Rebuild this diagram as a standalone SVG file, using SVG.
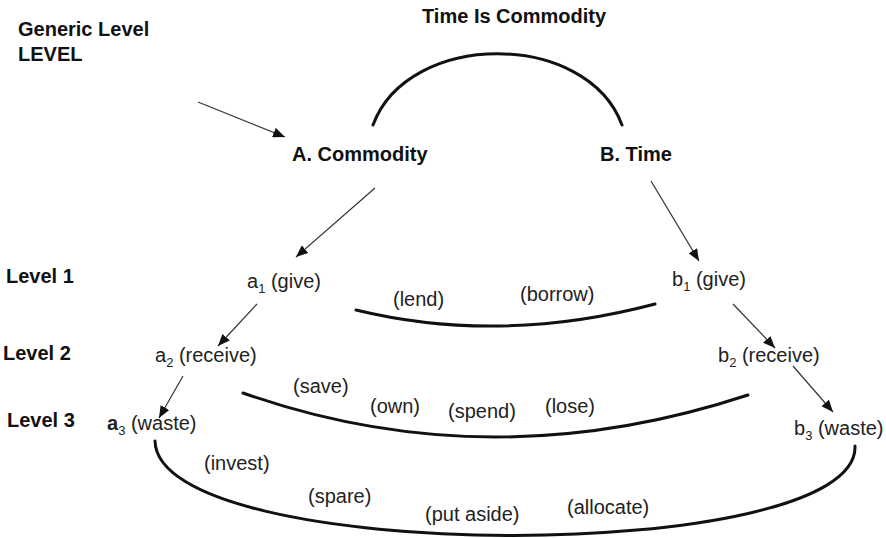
<svg xmlns="http://www.w3.org/2000/svg" width="886" height="538" viewBox="0 0 886 538">
  <style>
    .bold { font-family: "Liberation Sans", Arial, sans-serif; font-weight: bold; font-size: 20px; fill: #111; }
    .lbl { font-family: "Liberation Sans", Arial, sans-serif; font-size: 20px; fill: #222; }
    .sub { font-size: 13px; }
    .arc { fill: none; stroke: #111; stroke-width: 3; stroke-linecap: round; }
    .arrow { fill: none; stroke: #333; stroke-width: 1.2; marker-end: url(#head); }
  </style>
  <defs>
    <marker id="head" markerUnits="userSpaceOnUse" markerWidth="12" markerHeight="10" refX="12" refY="5" orient="auto">
      <path d="M0,0 L12,5 L0,10 Z" fill="#111"/>
    </marker>
  </defs>
  <rect width="886" height="538" fill="#fff"/>

  <!-- headings -->
  <g id="generic-level">
    <text class="bold" x="18" y="36">Generic Level</text>
    <text class="bold" x="18" y="61">LEVEL</text>
  </g>
  <g id="title">
    <text class="bold" x="422" y="23">Time Is Commodity</text>
  </g>
  <g id="level-1"><text class="bold" x="6" y="283">Level 1</text></g>
  <g id="level-2"><text class="bold" x="3" y="360">Level 2</text></g>
  <g id="level-3"><text class="bold" x="7" y="427">Level 3</text></g>

  <!-- concept nodes -->
  <g id="commodity"><text class="bold" x="292" y="161">A. Commodity</text></g>
  <g id="time"><text class="bold" x="600" y="161">B. Time</text></g>

  <g id="a1"><text class="lbl" x="247" y="288">a<tspan class="sub" dy="5">1</tspan><tspan dy="-5"> (give)</tspan></text></g>
  <g id="a2"><text class="lbl" x="155" y="362">a<tspan class="sub" dy="5">2</tspan><tspan dy="-5"> (receive)</tspan></text></g>
  <g id="a3"><text class="lbl" x="107" y="430"><tspan font-weight="bold">a</tspan><tspan class="sub" dy="5">3</tspan><tspan dy="-5"> (waste)</tspan></text></g>
  <g id="b1"><text class="lbl" x="672" y="286">b<tspan class="sub" dy="5">1</tspan><tspan dy="-5"> (give)</tspan></text></g>
  <g id="b2"><text class="lbl" x="718" y="362">b<tspan class="sub" dy="5">2</tspan><tspan dy="-5"> (receive)</tspan></text></g>
  <g id="b3"><text class="lbl" x="794" y="435">b<tspan class="sub" dy="5">3</tspan><tspan dy="-5"> (waste)</tspan></text></g>

  <!-- connectors -->
  <g id="connectors">
    <path class="arc" d="M373,125 C408,30 587,30 622,125"/>
    <path class="arc" d="M356,310 Q500,345 655,304"/>
    <path class="arc" d="M243,393 Q490,480 748,395"/>
    <path class="arc" d="M155,441 C158,566 860,566 855,446"/>

    <path class="arrow" d="M198,102 L285,137"/>
    <path class="arrow" d="M375,188 L296,257"/>
    <path class="arrow" d="M651,181 L699,261"/>
    <path class="arrow" d="M257,304 L218,346"/>
    <path class="arrow" d="M183,376 L159,418"/>
    <path class="arrow" d="M733,304 L775,348"/>
    <path class="arrow" d="M793,366 L833,412"/>
  </g>

  <!-- relation labels along the arcs -->
  <g id="level1-relations">
    <text class="lbl" x="393" y="306">(lend)</text>
    <text class="lbl" x="520" y="301">(borrow)</text>
  </g>
  <g id="level2-relations">
    <text class="lbl" x="293" y="393">(save)</text>
    <text class="lbl" x="370" y="413">(own)</text>
    <text class="lbl" x="448" y="418">(spend)</text>
    <text class="lbl" x="545" y="413">(lose)</text>
  </g>
  <g id="level3-relations">
    <text class="lbl" x="204" y="470">(invest)</text>
    <text class="lbl" x="308" y="503">(spare)</text>
    <text class="lbl" x="425" y="521">(put aside)</text>
    <text class="lbl" x="567" y="514">(allocate)</text>
  </g>
</svg>
